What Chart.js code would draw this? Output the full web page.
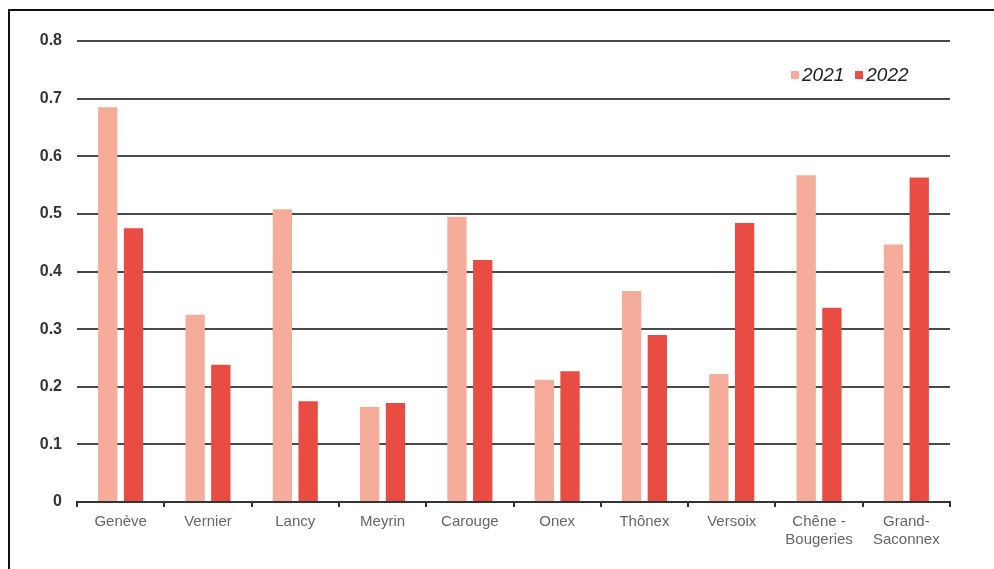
<!DOCTYPE html>
<html>
<head>
<meta charset="utf-8">
<script src="https://cdn.jsdelivr.net/npm/chart.js@4.4.0/dist/chart.umd.min.js"></script>
<style>
  html, body { margin: 0; padding: 0; background: #fff; }
  #wrap { position: relative; width: 994px; height: 569px; }
  #frame { position: absolute; left: 8px; top: 9px; right: 0; bottom: 0;
           border-top: 2px solid #111; border-left: 2px solid #111; pointer-events: none; }
  #legend { position: absolute; top: 64px; left: 791px; font: italic 19px "Liberation Sans", Arial, sans-serif;
            color: #222; display: flex; gap: 11px; }
  #legend span { display: flex; align-items: center; }
  #legend i { display: inline-block; width: 8px; height: 8px; margin-right: 3px; }
</style>
</head>
<body>
<div id="wrap">
  <canvas id="c" width="994" height="569"></canvas>
  <div id="frame"></div>
  <div id="legend"></div>
</div>
<script>
// Communes et valeurs
const communes = ['Genève', 'Vernier', 'Lancy', 'Meyrin', 'Carouge', 'Onex', 'Thônex', 'Versoix',
  ['Chêne -', 'Bougeries'], ['Grand-', 'Saconnex']];
const seriesLabels = ['2021', '2022'];
const values2021 = [0.685, 0.325, 0.508, 0.165, 0.495, 0.212, 0.366, 0.222, 0.567, 0.447];
const values2022 = [0.475, 0.238, 0.175, 0.172, 0.420, 0.227, 0.290, 0.484, 0.337, 0.563];
const yTicks = [0, 0.1, 0.2, 0.3, 0.4, 0.5, 0.6, 0.7, 0.8];
const colors = ['#F5AC9A', '#E84C43'];

const legend = document.getElementById('legend');
seriesLabels.forEach((l, i) => {
  legend.innerHTML += `<span><i style="background:${colors[i]}"></i>${l}</span>`;
});

new Chart(document.getElementById('c'), {
  type: 'bar',
  data: {
    labels: communes,
    datasets: [
      { label: seriesLabels[0], data: values2021, backgroundColor: colors[0] },
      { label: seriesLabels[1], data: values2022, backgroundColor: colors[1] }
    ]
  },
  options: {
    responsive: false,
    animation: false,
    layout: { padding: { top: 41, right: 44, left: 0, bottom: 0 } },
    categoryPercentage: 0.59,
    barPercentage: 0.75,
    plugins: { legend: { display: false }, tooltip: { enabled: false } },
    scales: {
      x: {
        grid: { offset: true, drawOnChartArea: false, drawTicks: true, tickLength: 5, color: '#333', lineWidth: 2 },
        border: { display: true, color: '#333', width: 2 },
        ticks: { color: '#666', font: { family: '"Liberation Sans Narrow", "Liberation Sans", sans-serif', size: 15 },
                 padding: 6, maxRotation: 0, autoSkip: false },
        afterFit: s => { s.height = 67; }
      },
      y: {
        min: 0, max: 0.8,
        afterBuildTicks: s => { s.ticks = yTicks.map(v => ({ value: v })); },
        grid: { color: '#4a4a4a', lineWidth: 2, drawTicks: false },
        border: { display: false },
        ticks: { color: '#333', font: { family: '"Liberation Sans", Arial, sans-serif', size: 16, weight: 'bold' },
                 padding: 15, callback: v => String(v) },
        afterFit: s => { s.width = 77; }
      }
    }
  }
});
</script>
</body>
</html>
